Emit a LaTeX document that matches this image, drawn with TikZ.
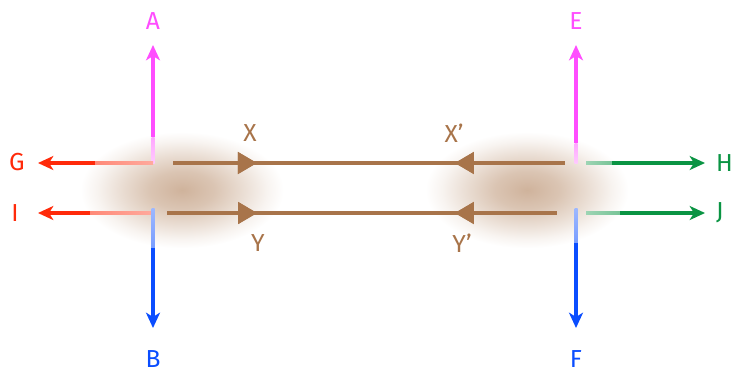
\documentclass[tikz,border=0pt]{standalone}
\usepackage{fontspec}
\setmainfont{Fira Sans}
\usepackage{tikz}
\usetikzlibrary{arrows.meta, positioning, calc, decorations.markings}

\definecolor{magcol}{HTML}{FF4DFF}
\definecolor{redcol}{HTML}{FF2A0A}
\definecolor{bluecol}{HTML}{0A4DFF}
\definecolor{greencol}{HTML}{0A9443}
\definecolor{browncol}{HTML}{A8744A}

\pgfdeclareradialshading{glowshade}{\pgfpoint{0bp}{0bp}}{color(0bp)=(browncol!55!white); color(8bp)=(browncol!42!white); color(15bp)=(browncol!24!white); color(21bp)=(browncol!8!white); color(25bp)=(white); color(50bp)=(white)}

\begin{document}
\begin{tikzpicture}[x=0.3mm, y=-0.3mm,
    lbl/.style={font=\fontsize{21}{24}\selectfont, inner sep=0pt},
    colarr/.style={line width=2.6pt, -{Stealth[length=4.6mm, width=4.2mm, inset=1.3mm]}},
    brownline/.style={line width=3.4pt, draw=browncol},
    fwdmark/.style={postaction=decorate, decoration={markings,
        mark=at position #1 with {\arrow[browncol]{Triangle[length=5.7mm, width=6.3mm]}}}},
    backmark/.style={postaction=decorate, decoration={markings,
        mark=at position #1 with {\arrowreversed[browncol]{Triangle[length=5.7mm, width=6.3mm]}}}},
]
    \useasboundingbox (0,0) rectangle (732,376);

    % Glows
    \coordinate (GlowL) at (182,190);
    \coordinate (GlowR) at (527,190);
    \shade[shading=glowshade] (GlowL) ellipse [x radius=30.5mm, y radius=17.5mm];
    \shade[shading=glowshade] (GlowR) ellipse [x radius=30.5mm, y radius=17.5mm];

    % Left cross points
    \coordinate (Lc) at (153,163);
    \coordinate (Lm) at (153,137);
    \coordinate (Atip) at (153,45);
    \coordinate (Lg) at (95,163);
    \coordinate (Gtip) at (38,163);
    \coordinate (Li) at (153,213);
    \coordinate (Lif) at (90,213);
    \coordinate (Itip) at (38,213);
    \coordinate (Lb) at (153,208);
    \coordinate (Lbf) at (153,248);
    \coordinate (Btip) at (153,328);

    % Right cross points
    \coordinate (Rm) at (576,163);
    \coordinate (Rmf) at (576,143);
    \coordinate (Etip) at (576,45);
    \coordinate (Rh) at (586,163);
    \coordinate (Rhf) at (612,163);
    \coordinate (Htip) at (705,163);
    \coordinate (Rj) at (586,213);
    \coordinate (Rjf) at (620,213);
    \coordinate (Jtip) at (705,213);
    \coordinate (Rb) at (576,208);
    \coordinate (Rbf) at (576,243);
    \coordinate (Ftip) at (576,328);

    % Brown line ends
    \coordinate (X1) at (173,163);
    \coordinate (X2) at (565,163);
    \coordinate (Y1) at (167,213);
    \coordinate (Y2) at (557,213);

    % Faded parts
    \shade[top color=magcol!50!white, bottom color=magcol!30!white] ($(Lm)+(-1.5,0)$) rectangle ($(Lc)+(1.5,0)$);
    \shade[left color=redcol!55!white, right color=redcol!40!white] ($(Lg)+(0,-1.5)$) rectangle ($(Lc)+(0,1.5)$);
    \shade[left color=redcol!55!white, right color=redcol!40!white] ($(Lif)+(0,-1.5)$) rectangle ($(Li)+(0,1.5)$);
    \shade[top color=bluecol!40!white, bottom color=bluecol!55!white] ($(Lb)+(-1.5,0)$) rectangle ($(Lbf)+(1.5,0)$);
    \shade[top color=magcol!50!white, bottom color=magcol!30!white] ($(Rmf)+(-1.5,0)$) rectangle ($(Rm)+(1.5,0)$);
    \shade[left color=greencol!40!white, right color=greencol!55!white] ($(Rh)+(0,-1.5)$) rectangle ($(Rhf)+(0,1.5)$);
    \shade[left color=greencol!40!white, right color=greencol!55!white] ($(Rj)+(0,-1.5)$) rectangle ($(Rjf)+(0,1.5)$);
    \shade[top color=bluecol!40!white, bottom color=bluecol!55!white] ($(Rb)+(-1.5,0)$) rectangle ($(Rbf)+(1.5,0)$);

    % Coloured arrows
    \draw[colarr, magcol] (Lm) -- (Atip);
    \draw[colarr, redcol] (Lg) -- (Gtip);
    \draw[colarr, redcol] (Lif) -- (Itip);
    \draw[colarr, bluecol] (Lbf) -- (Btip);
    \draw[colarr, magcol] (Rmf) -- (Etip);
    \draw[colarr, greencol] (Rhf) -- (Htip);
    \draw[colarr, greencol] (Rjf) -- (Jtip);
    \draw[colarr, bluecol] (Rbf) -- (Ftip);

    % Brown lines
    \draw[brownline, fwdmark=0.214, backmark=0.719] (X1) -- (X2);
    \draw[brownline, fwdmark=0.231, backmark=0.738] (Y1) -- (Y2);

    % Labels
    \node[lbl, magcol] (A) at (153,21) {A};
    \node[lbl, bluecol] (B) at (153,359) {B};
    \node[lbl, magcol] (E) at (576,21) {E};
    \node[lbl, bluecol] (F) at (576,359) {F};
    \node[lbl, redcol] (G) at (17,162) {G};
    \node[lbl, redcol] (I) at (15,213) {I};
    \node[lbl, greencol, anchor=west] (H) at (716,163) {H};
    \node[lbl, greencol, anchor=west] (J) at (716,213) {J};
    \node[lbl, browncol] (X) at (250,133) {X};
    \node[lbl, browncol] (Xp) at (454,133) {X’};
    \node[lbl, browncol] (Y) at (258,243) {Y};
    \node[lbl, browncol] (Yp) at (462,243) {Y’};
\end{tikzpicture}
\end{document}
